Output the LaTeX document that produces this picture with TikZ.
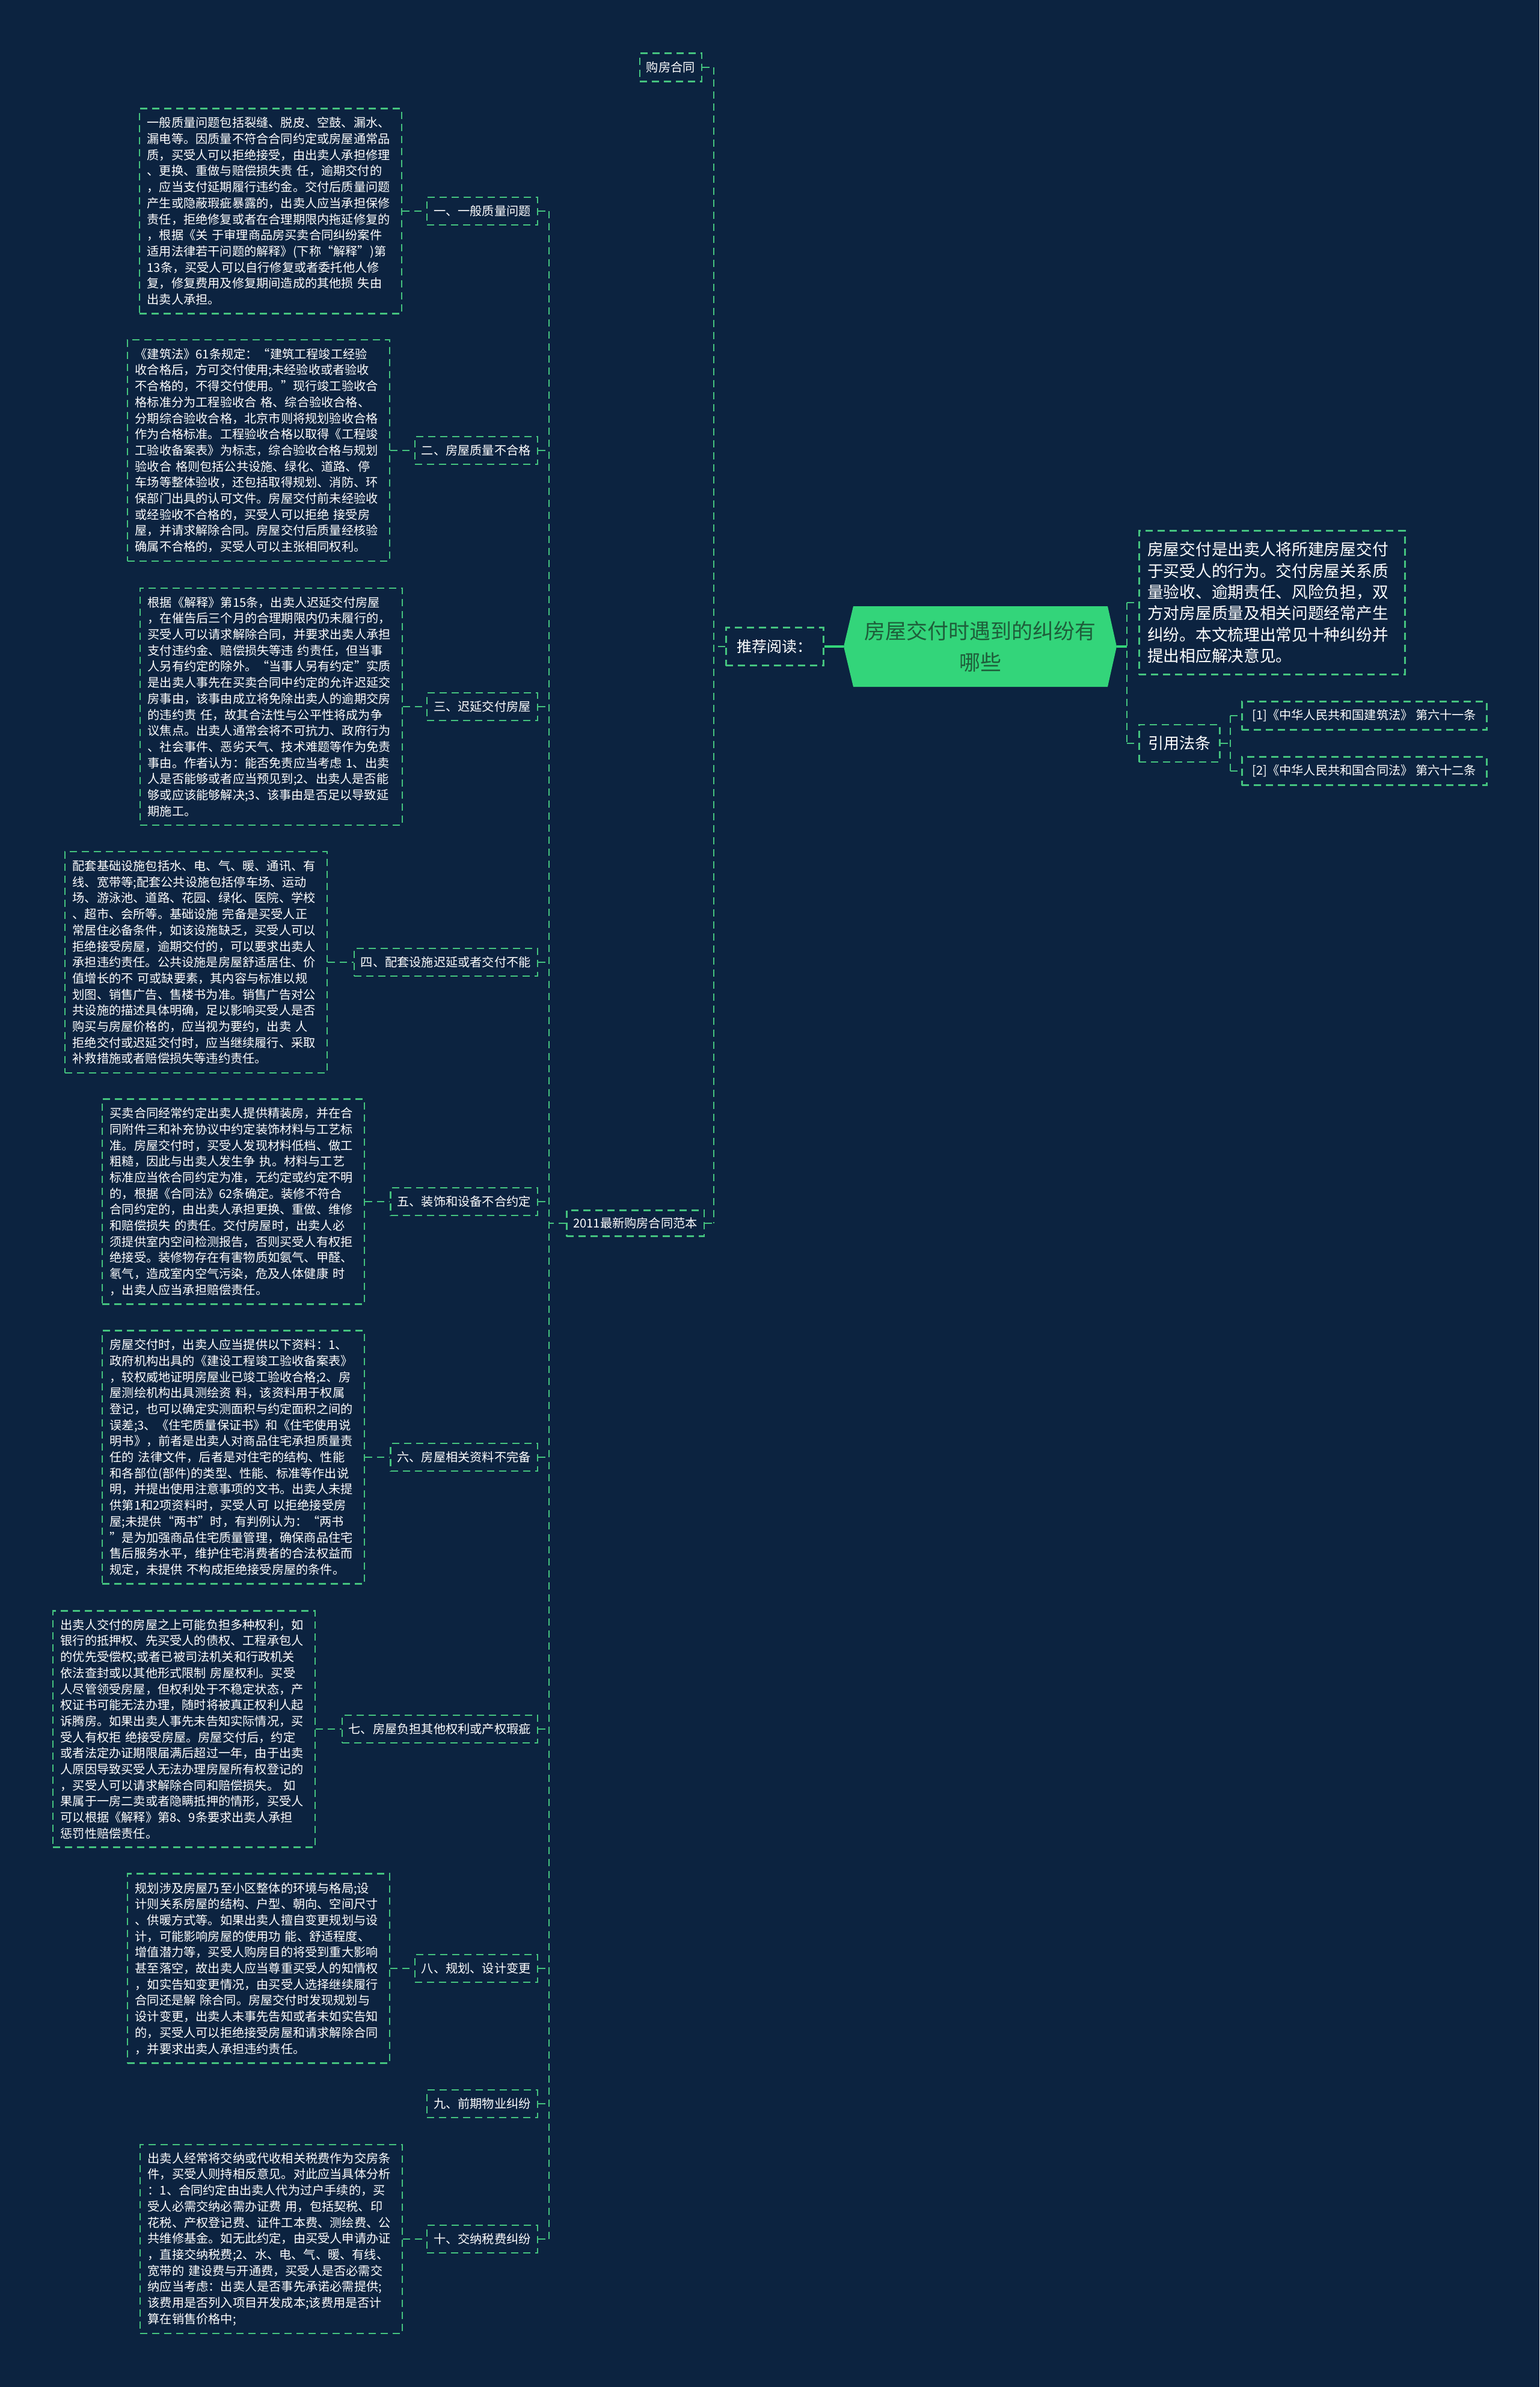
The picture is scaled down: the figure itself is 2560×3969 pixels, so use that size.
\documentclass[tikz,border=0pt]{standalone}
\usepackage{fontspec}
\setmainfont{Noto Sans CJK SC}
\setlength{\parindent}{0pt}
\definecolor{bgc}{HTML}{0C2340}
\definecolor{lgreen}{HTML}{45C37F}
\definecolor{cgreen}{HTML}{33D57A}
\definecolor{cdark}{HTML}{1E5E3A}
\tikzset{
  dl/.style={draw=lgreen, line width=2.5pt, dash pattern=on 12pt off 8pt},
  conn/.style={draw=lgreen, line width=2.5pt, dash pattern=on 12pt off 8pt},
  solidc/.style={draw=cgreen, line width=4pt},
  para/.style={dl, text=white, font=\fontsize{20.2}{26.7}\selectfont, text width=410pt, inner xsep=13pt, inner ysep=0pt, align=left, anchor=east},
  cat/.style={dl, text=white, font=\fontsize{20.2}{24}\selectfont, inner xsep=11pt, inner ysep=0pt, minimum height=46pt, anchor=east},
}
\begin{document}
\begin{tikzpicture}[x=1pt,y=-1pt]
\useasboundingbox (0,0) rectangle (2560,3969);
\fill[bgc] (0,0) rectangle (2560,3969);

% trunk coordinates
\coordinate (trunkL) at (913,2034);
\coordinate (trunkM) at (1187,1075);
\coordinate (trunkR) at (1874,1075);
\coordinate (trunkRR) at (2046,1236);

% center node
\fill[cgreen] (1403,1075) -- (1419,1008) -- (1842,1008) -- (1857,1075) -- (1842,1142) -- (1419,1142) -- cycle;
\node[text=cdark, align=center, minimum width=454pt, minimum height=134pt, inner sep=0pt,
      font=\fontsize{35}{51.5}\selectfont] (cen) at (1630,1075) {房屋交付时遇到的纠纷有\\哪些};

% left first level
\node[dl, text=white, font=\fontsize{25}{30}\selectfont, minimum width=162pt, minimum height=63pt, inner sep=0pt, anchor=west] (tj) at (1206,1075) {推荐阅读：};
\node[dl, text=white, font=\fontsize{20.2}{24}\selectfont, minimum height=47pt, inner xsep=11pt, inner ysep=0pt, anchor=east] (gf) at (1168,112) {购房合同};
\node[dl, text=white, font=\fontsize{20.2}{24}\selectfont, minimum height=43pt, inner xsep=11pt, inner ysep=0pt, anchor=east] (fb) at (1172,2034) {2011最新购房合同范本};

% categories
\node[cat] (c1) at (895,351) {一、一般质量问题};
\node[cat] (c2) at (895,749) {二、房屋质量不合格};
\node[cat] (c3) at (895,1175) {三、迟延交付房屋};
\node[cat] (c4) at (895,1600) {四、配套设施迟延或者交付不能};
\node[cat] (c5) at (895,1998) {五、装饰和设备不合约定};
\node[cat] (c6) at (895,2423) {六、房屋相关资料不完备};
\node[cat] (c7) at (895,2875) {七、房屋负担其他权利或产权瑕疵};
\node[cat] (c8) at (895,3273) {八、规划、设计变更};
\node[cat] (c9) at (895,3498) {九、前期物业纠纷};
\node[cat] (c10) at (895,3723) {十、交纳税费纠纷};

% paragraphs
\node[para, minimum height=341pt] (p1) at (669,351) {一般质量问题包括裂缝、脱皮、空鼓、漏水、\\漏电等。因质量不符合合同约定或房屋通常品\\质，买受人可以拒绝接受，由出卖人承担修理\\、更换、重做与赔偿损失责~任，逾期交付的\\，应当支付延期履行违约金。交付后质量问题\\产生或隐蔽瑕疵暴露的，出卖人应当承担保修\\责任，拒绝修复或者在合理期限内拖延修复的\\，根据《关~于审理商品房买卖合同纠纷案件\\适用法律若干问题的解释》(下称“解释”)第\\13条，买受人可以自行修复或者委托他人修\\复，修复费用及修复期间造成的其他损~失由\\出卖人承担。};

\node[para, minimum height=368pt] (p2) at (649,749) {《建筑法》61条规定：“建筑工程竣工经验\\收合格后，方可交付使用;未经验收或者验收\\不合格的，不得交付使用。”现行竣工验收合\\格标准分为工程验收合~格、综合验收合格、\\分期综合验收合格，北京市则将规划验收合格\\作为合格标准。工程验收合格以取得《工程竣\\工验收备案表》为标志，综合验收合格与规划\\验收合~格则包括公共设施、绿化、道路、停\\车场等整体验收，还包括取得规划、消防、环\\保部门出具的认可文件。房屋交付前未经验收\\或经验收不合格的，买受人可以拒绝~接受房\\屋，并请求解除合同。房屋交付后质量经核验\\确属不合格的，买受人可以主张相同权利。};

\node[para, minimum height=394pt] (p3) at (670,1175) {根据《解释》第15条，出卖人迟延交付房屋\\，在催告后三个月的合理期限内仍未履行的，\\买受人可以请求解除合同，并要求出卖人承担\\支付违约金、赔偿损失等违~约责任，但当事\\人另有约定的除外。“当事人另有约定”实质\\是出卖人事先在买卖合同中约定的允许迟延交\\房事由，该事由成立将免除出卖人的逾期交房\\的违约责~任，故其合法性与公平性将成为争\\议焦点。出卖人通常会将不可抗力、政府行为\\、社会事件、恶劣天气、技术难题等作为免责\\事由。作者认为：能否免责应当考虑~1、出卖\\人是否能够或者应当预见到;2、出卖人是否能\\够或应该能够解决;3、该事由是否足以导致延\\期施工。};

\node[para, minimum height=368pt] (p4) at (545,1600) {配套基础设施包括水、电、气、暖、通讯、有\\线、宽带等;配套公共设施包括停车场、运动\\场、游泳池、道路、花园、绿化、医院、学校\\、超市、会所等。基础设施~完备是买受人正\\常居住必备条件，如该设施缺乏，买受人可以\\拒绝接受房屋，逾期交付的，可以要求出卖人\\承担违约责任。公共设施是房屋舒适居住、价\\值增长的不~可或缺要素，其内容与标准以规\\划图、销售广告、售楼书为准。销售广告对公\\共设施的描述具体明确，足以影响买受人是否\\购买与房屋价格的，应当视为要约，出卖~人\\拒绝交付或迟延交付时，应当继续履行、采取\\补救措施或者赔偿损失等违约责任。};

\node[para, minimum height=341pt] (p5) at (607,1998) {买卖合同经常约定出卖人提供精装房，并在合\\同附件三和补充协议中约定装饰材料与工艺标\\准。房屋交付时，买受人发现材料低档、做工\\粗糙，因此与出卖人发生争~执。材料与工艺\\标准应当依合同约定为准，无约定或约定不明\\的，根据《合同法》62条确定。装修不符合\\合同约定的，由出卖人承担更换、重做、维修\\和赔偿损失~的责任。交付房屋时，出卖人必\\须提供室内空间检测报告，否则买受人有权拒\\绝接受。装修物存在有害物质如氨气、甲醛、\\氡气，造成室内空气污染，危及人体健康~时\\，出卖人应当承担赔偿责任。};

\node[para, minimum height=421pt] (p6) at (607,2423) {房屋交付时，出卖人应当提供以下资料：1、\\政府机构出具的《建设工程竣工验收备案表》\\，较权威地证明房屋业已竣工验收合格;2、房\\屋测绘机构出具测绘资~料，该资料用于权属\\登记，也可以确定实测面积与约定面积之间的\\误差;3、《住宅质量保证书》和《住宅使用说\\明书》，前者是出卖人对商品住宅承担质量责\\任的~法律文件，后者是对住宅的结构、性能\\和各部位(部件)的类型、性能、标准等作出说\\明，并提出使用注意事项的文书。出卖人未提\\供第1和2项资料时，买受人可~以拒绝接受房\\屋;未提供“两书”时，有判例认为：“两书\\”是为加强商品住宅质量管理，确保商品住宅\\售后服务水平，维护住宅消费者的合法权益而\\规定，未提供~不构成拒绝接受房屋的条件。};

\node[para, minimum height=393pt] (p7) at (525,2875) {出卖人交付的房屋之上可能负担多种权利，如\\银行的抵押权、先买受人的债权、工程承包人\\的优先受偿权;或者已被司法机关和行政机关\\依法查封或以其他形式限制~房屋权利。买受\\人尽管领受房屋，但权利处于不稳定状态，产\\权证书可能无法办理，随时将被真正权利人起\\诉腾房。如果出卖人事先未告知实际情况，买\\受人有权拒~绝接受房屋。房屋交付后，约定\\或者法定办证期限届满后超过一年，由于出卖\\人原因导致买受人无法办理房屋所有权登记的\\，买受人可以请求解除合同和赔偿损失。~如\\果属于一房二卖或者隐瞒抵押的情形，买受人\\可以根据《解释》第8、9条要求出卖人承担\\惩罚性赔偿责任。};

\node[para, minimum height=315pt] (p8) at (649,3273) {规划涉及房屋乃至小区整体的环境与格局;设\\计则关系房屋的结构、户型、朝向、空间尺寸\\、供暖方式等。如果出卖人擅自变更规划与设\\计，可能影响房屋的使用功~能、舒适程度、\\增值潜力等，买受人购房目的将受到重大影响\\甚至落空，故出卖人应当尊重买受人的知情权\\，如实告知变更情况，由买受人选择继续履行\\合同还是解~除合同。房屋交付时发现规划与\\设计变更，出卖人未事先告知或者未如实告知\\的，买受人可以拒绝接受房屋和请求解除合同\\，并要求出卖人承担违约责任。};

\node[para, minimum height=314pt] (p10) at (670,3723) {出卖人经常将交纳或代收相关税费作为交房条\\件，买受人则持相反意见。对此应当具体分析\\：1、合同约定由出卖人代为过户手续的，买\\受人必需交纳必需办证费~用，包括契税、印\\花税、产权登记费、证件工本费、测绘费、公\\共维修基金。如无此约定，由买受人申请办证\\，直接交纳税费;2、水、电、气、暖、有线、\\宽带的~建设费与开通费，买受人是否必需交\\纳应当考虑：出卖人是否事先承诺必需提供;\\该费用是否列入项目开发成本;该费用是否计\\算在销售价格中;};

% right side
\node[dl, text=white, font=\fontsize{26.7}{35.3}\selectfont, text width=414pt, inner xsep=14pt, inner ysep=0pt, minimum height=239pt, align=left, anchor=west] (intro) at (1893,1002) {房屋交付是出卖人将所建房屋交付\\于买受人的行为。交付房屋关系质\\量验收、逾期责任、风险负担，双\\方对房屋质量及相关问题经常产生\\纠纷。本文梳理出常见十种纠纷并\\提出相应解决意见。};
\node[dl, text=white, font=\fontsize{26}{30}\selectfont, minimum width=134pt, minimum height=62pt, inner sep=0pt, anchor=west] (yy) at (1893,1236) {引用法条};
\node[dl, text=white, font=\fontsize{20.2}{24}\selectfont, minimum width=407pt, minimum height=47pt, inner sep=0pt, anchor=west] (r1) at (2064,1190) {[1]《中华人民共和国建筑法》 第六十一条};
\node[dl, text=white, font=\fontsize{20.2}{24}\selectfont, minimum width=407pt, minimum height=47pt, inner sep=0pt, anchor=west] (r2) at (2064,1282) {[2]《中华人民共和国合同法》 第六十二条};

% connectors: paragraphs to categories
\foreach \i in {1,2,3,4,5,6,7,8,10}{
  \draw[conn] (p\i.east) -- (c\i.west);
}
% categories to trunk
\foreach \i in {1,...,10}{
  \draw[conn] (c\i.east) -- (c\i.east -| trunkL);
}
\draw[conn] (c1.east -| trunkL) -- (c10.east -| trunkL);
\draw[conn] (fb.west) -- (fb.west -| trunkL);

% middle trunk
\draw[conn] (gf.east) -- (gf.east -| trunkM);
\draw[conn] (fb.east) -- (fb.east -| trunkM);
\draw[conn] (gf.east -| trunkM) -- (fb.east -| trunkM);
\draw[conn] (tj.west) -- (tj.west -| trunkM);

% solid main connectors
\draw[solidc] (tj.east) -- (cen.west);
\draw[solidc] (cen.east) -- (cen.east -| trunkR);

% right trunk
\draw[conn] (intro.west -| trunkR) -- (yy.west -| trunkR);
\draw[conn] (intro.west -| trunkR) -- (intro.west);
\draw[conn] (yy.west -| trunkR) -- (yy.west);

% refs trunk
\draw[conn] (yy.east) -- (yy.east -| trunkRR);
\draw[conn] (r1.west -| trunkRR) -- (r2.west -| trunkRR);
\draw[conn] (r1.west -| trunkRR) -- (r1.west);
\draw[conn] (r2.west -| trunkRR) -- (r2.west);
\end{tikzpicture}
\end{document}
